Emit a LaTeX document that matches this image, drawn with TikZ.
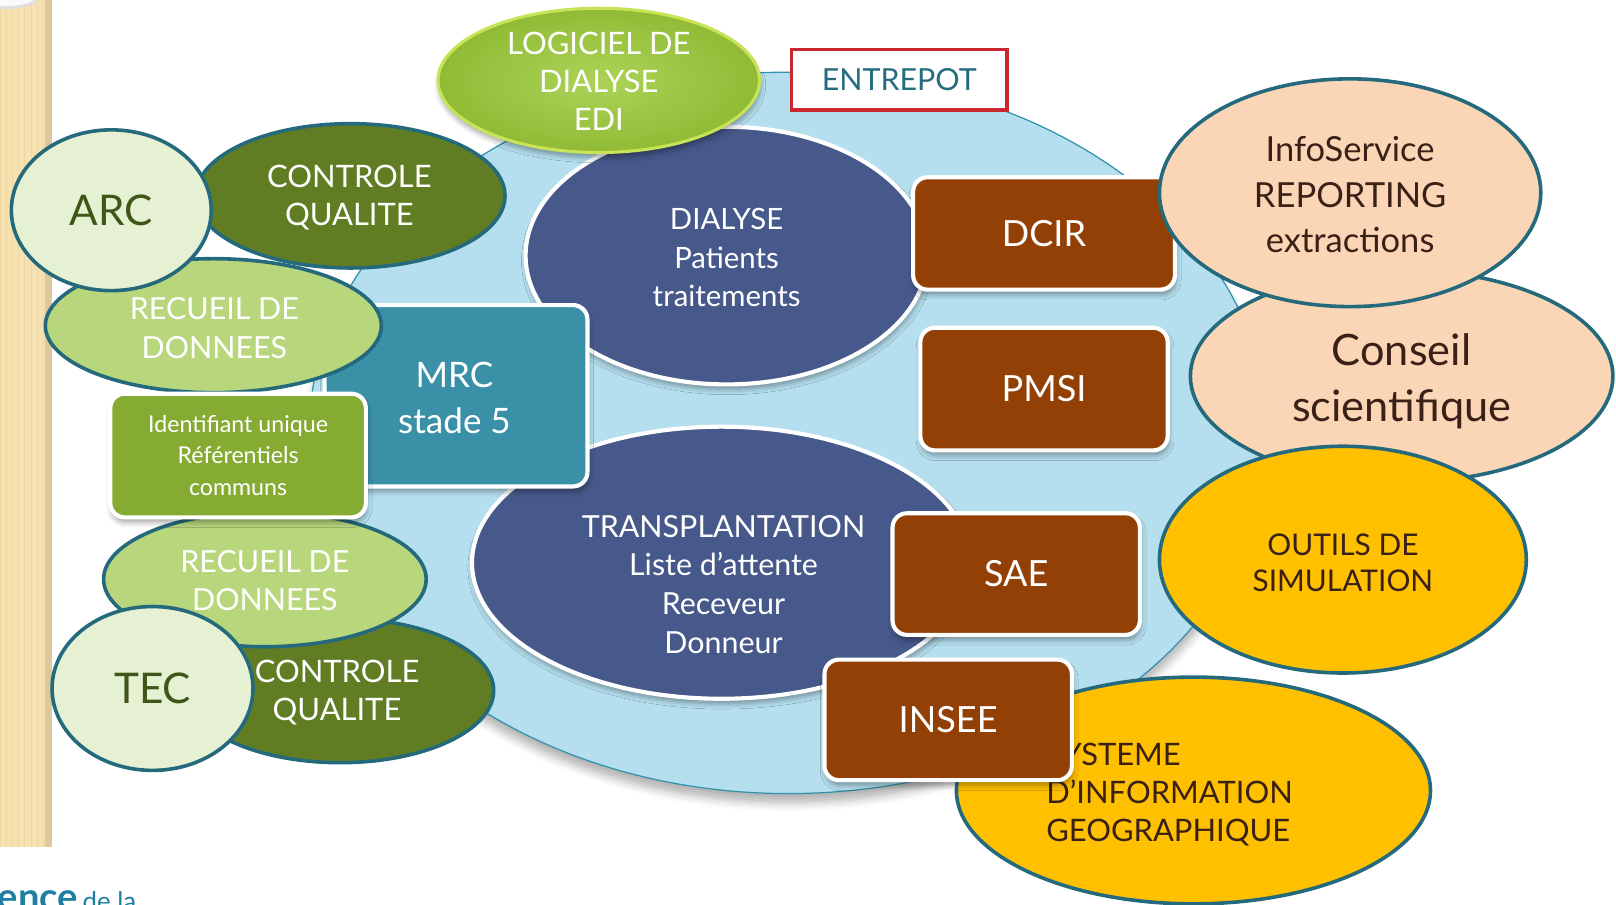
\documentclass[tikz,border=0pt]{standalone}
\usepackage{fontspec}
\setmainfont{Lato}
\usetikzlibrary{shapes.geometric,shadows.blur}

\definecolor{cOlive}{HTML}{617D24}
\definecolor{cLeaf}{HTML}{B8D77C}
\definecolor{cPale}{HTML}{E6F0D2}
\definecolor{cRim}{HTML}{256A7C}
\definecolor{cDeep}{HTML}{3E5617}
\definecolor{cMrc}{HTML}{3A90A7}
\definecolor{cIdent}{HTML}{86AB33}
\definecolor{cSlate}{HTML}{47598B}
\definecolor{cRust}{HTML}{934006}
\definecolor{cPeach}{HTML}{FAD6B6}
\definecolor{cGold}{HTML}{FFC000}
\definecolor{cInk}{HTML}{3A2016}
\definecolor{cSky}{HTML}{B5DFEF}
\definecolor{cSkyLine}{HTML}{3291AC}
\definecolor{cLime}{HTML}{9DCB3A}
\definecolor{cLimeEdge}{HTML}{C9E356}
\definecolor{cRed}{HTML}{C8282E}
\definecolor{cTealTxt}{HTML}{256D7E}
\definecolor{cStrip}{HTML}{F6E2B0}
\definecolor{cStripDark}{HTML}{DCC89C}
\definecolor{cStripLine}{HTML}{EDD8A4}
\definecolor{cLogo}{HTML}{1F7FA0}

\newcommand{\fsz}[2]{\fontsize{#1}{#2}\selectfont}

\begin{document}
\begin{tikzpicture}[x=1pt,y=-1pt,
  ell/.style={ellipse, inner sep=0pt, align=center},
  rimell/.style={ell, draw=cRim, line width=3.5pt},
  softshadow/.style={blur shadow={shadow xshift=1pt, shadow yshift=-5pt,
      shadow blur radius=5pt, shadow opacity=35}},
  whitebox/.style={rectangle, rounded corners=14pt, draw=white, line width=4pt,
      inner sep=0pt, align=center, softshadow},
  rustbox/.style={whitebox, fill=cRust, text=white, font=\fsz{35}{40}},
  txt/.style={inner sep=0pt, align=center}]

\useasboundingbox (0,0) rectangle (1568,878);

% decorative strip on the left
\fill[cStrip] (0,0) rectangle (50,822);
\draw[cStripLine, line width=0.6pt, step=6] (0,0) grid (44,822);
\fill[cStripDark] (44,0) rectangle (50,822);
\fill[gray!25] (0,0) ellipse [x radius=36, y radius=9];
\fill[white!96!gray] (0,-1) ellipse [x radius=33, y radius=7];

% central hub
\node[ell, fill=cSky, draw=cSkyLine, line width=1.2pt, minimum width=930,
  minimum height=700,
  blur shadow={shadow xshift=0pt, shadow yshift=-9pt, shadow blur radius=8pt,
  shadow opacity=30}] (hub) at (765,420) {};

% patient registries
\node[ell, fill=cSlate, draw=white, line width=4pt, minimum width=390,
  minimum height=250, text=white, font=\fsz{28.5}{37.5}, softshadow]
  (dial) at (705,248) {};
\node[txt, text=white, font=\fsz{28.5}{37.5}] (dialtxt) at (705,250)
  {DIALYSE\\Patients\\traitements};
\node[ell, fill=cSlate, draw=white, line width=4pt, minimum width=484,
  minimum height=264, softshadow] (transp) at (700,546) {};
\node[txt, text=white, font=\fsz{29.5}{37.5}] (transptxt) at (702,567)
  {TRANSPLANTATION\\Liste d’attente\\Receveur\\Donneur};

% dialysis software
\node[ell, inner color=cLime!85!white, outer color=cLime!92!black,
  draw=cLimeEdge, line width=3pt, minimum width=312, minimum height=140,
  softshadow] (edi) at (581,78) {};
\node[txt, text=white, font=\fsz{30}{37}] (editxt) at (581,79)
  {LOGICIEL DE\\DIALYSE\\EDI};

% CKD stage 5
\node[whitebox, fill=cMrc, minimum width=255, minimum height=176] (mrc)
  at (442.5,384) {};
\node[txt, text=white, font=\fsz{34}{44}] (mrctxt) at (441,386) {MRC\\stade 5};

% top-left cluster: ARC
\node[rimell, fill=cLeaf, minimum width=326, minimum height=130] (rec1)
  at (207,316) {};
\node[txt, text=white, font=\fsz{29.5}{38}] (rec1txt) at (208,318)
  {RECUEIL DE\\DONNEES};
\node[rimell, fill=cOlive, minimum width=300, minimum height=140] (cq1)
  at (340,190) {};
\node[txt, text=white, font=\fsz{30}{37}] (cq1txt) at (339,192)
  {CONTROLE\\QUALITE};
\node[rimell, fill=cPale, minimum width=194, minimum height=156, text=cDeep,
  font=\fsz{41}{48}] (arc) at (108,204) {ARC};

% bottom-left cluster: TEC
\node[rimell, fill=cOlive, minimum width=298, minimum height=140] (cq2)
  at (330,670) {};
\node[txt, text=white, font=\fsz{30}{37}] (cq2txt) at (327,672)
  {CONTROLE\\QUALITE};
\node[rimell, fill=cLeaf, minimum width=313, minimum height=131] (rec2)
  at (257,562) {};
\node[txt, text=white, font=\fsz{29.5}{37}] (rec2txt) at (257,563)
  {RECUEIL DE\\DONNEES};
\node[rimell, fill=cPale, minimum width=195, minimum height=159, text=cDeep,
  font=\fsz{41}{48}] (tec) at (148,668) {TEC};

% shared identifiers
\node[whitebox, fill=cIdent, minimum width=248, minimum height=120,
  text=white, font=\fsz{22.5}{31}] (ident) at (231,442)
  {Identifiant unique\\Référentiels\\communs};

% external databases
\node[rustbox, minimum width=254, minimum height=109] (dcir) at (1013,226.5) {DCIR};
\node[rustbox, minimum width=240, minimum height=119] (pmsi) at (1013,377.5) {PMSI};
\node[rustbox, minimum width=240, minimum height=118] (sae) at (986,557) {SAE};

% outputs
\node[rimell, fill=cPeach, minimum width=410, minimum height=206] (conseil)
  at (1360,365) {};
\node[txt, text=cInk, font=\fsz{42}{55}] (conseiltxt) at (1360,370)
  {Conseil\\scientifique};
\node[rimell, fill=cPeach, minimum width=370, minimum height=221] (info)
  at (1310,187) {};
\node[txt, text=cInk, font=\fsz{33.5}{44}] (infotxt) at (1310,189)
  {InfoService\\REPORTING\\extractions};
\node[rimell, fill=cGold, minimum width=356, minimum height=220] (sim)
  at (1303,543) {};
\node[txt, text=cInk, font=\fsz{29}{35}] (simtxt) at (1303,546)
  {OUTILS DE\\SIMULATION};
\node[rimell, fill=cGold, minimum width=460, minimum height=220] (sig)
  at (1158,767) {};
\node[txt, align=left, anchor=west, text=cInk, font=\fsz{30}{37}] (sigtxt)
  at (1015,771) {SYSTEME\\D’INFORMATION\\GEOGRAPHIQUE};

\node[rustbox, minimum width=240, minimum height=117] (insee) at (920,698.5) {INSEE};

% warehouse label
\node[rectangle, fill=white, draw=cRed, line width=3.5pt, minimum width=209,
  minimum height=59, inner sep=0pt, text=cTealTxt, font=\fsz{29.5}{34}]
  (entrepot) at (872.5,77.5) {ENTREPOT};

% logo fragment
\node[inner sep=0pt, anchor=base east, text=cLogo, font=\bfseries\fsz{37}{40}]
  (logoa) at (76,883) {uence};
\node[inner sep=0pt, anchor=base west, text=cLogo, font=\fsz{25}{28}]
  (logob) at (80,883) {de la};
\end{tikzpicture}
\end{document}
